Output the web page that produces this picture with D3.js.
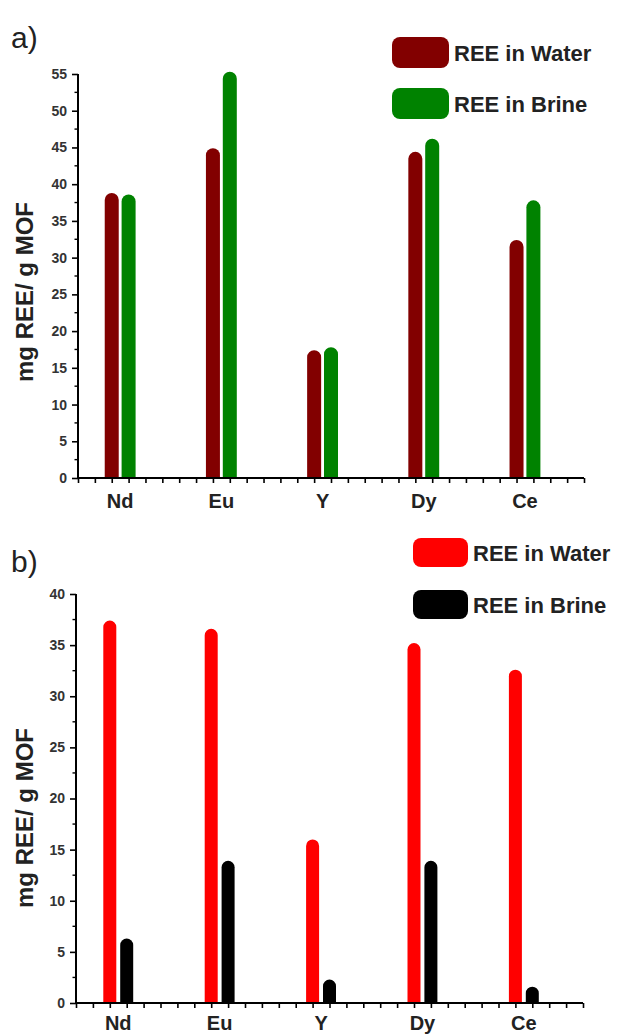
<!DOCTYPE html>
<html><head><meta charset="utf-8">
<script src="https://cdn.jsdelivr.net/npm/d3@7"></script>
<style>html,body{margin:0;padding:0;background:#fff;}svg{display:block;}</style>
</head><body>
<script>
const categories = ["Nd","Eu","Y","Dy","Ce"];
const seriesNames = ["REE in Water","REE in Brine"];
const waterA = [38.8, 44.9, 17.4, 44.4, 32.4];
const brineA = [38.6, 55.3, 17.8, 46.2, 37.8];
const waterB = [37.4, 36.6, 16.0, 35.2, 32.6];
const brineB = [6.3, 13.9, 2.3, 13.9, 1.6];
const yTicksA = [0,5,10,15,20,25,30,35,40,45,50,55];
const yTicksB = [0,5,10,15,20,25,30,35,40];

const W = 619, H = 1034;
const svg = d3.select("body").append("svg").attr("width", W).attr("height", H);
const FONT = "'Liberation Sans', Arial, sans-serif";

function barPath(x, w, yTop, yBase) {
  const r = Math.min(w/2, (yBase - yTop));
  return `M${x},${yBase} L${x},${yTop + r} A${r},${r} 0 0 1 ${x + w},${yTop + r} L${x + w},${yBase} Z`;
}

function panel(o) {
  const g = svg.append("g");
  const x = d3.scaleLinear().domain([0, 30]).range([o.x0, o.x1]);
  const y = d3.scaleLinear().domain([0, o.ymax]).range([o.yBase, o.yTop]);
  const catPos = i => 2 + i * 6;

  const series = [o.water, o.brine];
  series.forEach((vals, s) => {
    g.selectAll(null).data(vals).enter().append("path")
      .attr("d", (d, i) => {
        const cx = x(catPos(i) + s);
        return barPath(cx - o.bw/2, o.bw, y(d), y(0));
      })
      .attr("fill", o.colors[s]);
  });

  const yAxis = d3.axisLeft(y).tickValues(o.yTicks).tickSize(6).tickPadding(4).tickFormat(d3.format("d"));
  const ya = g.append("g").attr("transform", `translate(${o.x0},0)`).call(yAxis);
  ya.select(".domain").attr("stroke", "#000").attr("stroke-width", 2).attr("d", `M0,${o.yTop}V${o.yBase}`);
  ya.selectAll(".tick line").attr("stroke", "#000").attr("stroke-width", 1.6);
  ya.selectAll(".tick text").attr("font-family", FONT).attr("font-weight", "bold")
    .attr("font-size", 14).attr("fill", "#333").attr("dx", -1);
  const minor = d3.range(2.5, o.ymax, 5);
  g.selectAll(null).data(minor).enter().append("line")
    .attr("x1", o.x0 - 3.5).attr("x2", o.x0).attr("y1", d => y(d)).attr("y2", d => y(d))
    .attr("stroke", "#000").attr("stroke-width", 1.4);

  const xAxis = d3.axisBottom(x).tickValues(d3.range(0, 31)).tickSize(5).tickFormat("");
  const xa = g.append("g").attr("transform", `translate(0,${o.yBase})`).call(xAxis);
  xa.select(".domain").attr("stroke", "#000").attr("stroke-width", 2).attr("d", `M${o.x0},0H${o.x1}`);
  xa.selectAll(".tick line").attr("stroke", "#000").attr("stroke-width", 1.6);
  g.selectAll(null).data(categories).enter().append("text")
    .attr("x", (d, i) => x(catPos(i) + 0.5)).attr("y", o.yBase + o.labelDy)
    .attr("text-anchor", "middle").attr("font-family", FONT).attr("font-weight", "bold")
    .attr("font-size", 20).attr("fill", "#222").text(d => d);

  g.append("text")
    .attr("transform", `translate(${o.titleX},${o.titleY}) rotate(-90)`)
    .attr("text-anchor", "middle").attr("font-family", FONT).attr("font-weight", "bold")
    .attr("font-size", 24).attr("fill", "#222").text("mg REE/ g MOF");

  g.append("text").attr("x", o.letterX).attr("y", o.letterY)
    .attr("font-family", FONT).attr("font-size", 30).attr("fill", "#222").text(o.letter);

  seriesNames.forEach((name, s) => {
    const ly = o.legY + s * o.legStep;
    g.append("rect").attr("x", o.legX).attr("y", ly).attr("width", o.legW).attr("height", o.legH)
      .attr("rx", 8).attr("ry", 8).attr("fill", o.colors[s]);
    g.append("text").attr("x", o.legX + o.legW + 5).attr("y", ly + o.legH/2 + 8)
      .attr("font-family", FONT).attr("font-weight", "bold").attr("font-size", 22)
      .attr("fill", "#222").text(name);
  });
}

panel({
  x0: 78, x1: 584, yBase: 478, yTop: 74, ymax: 55, yTicks: yTicksA,
  water: waterA, brine: brineA, colors: ["#820000", "#008200"], bw: 14, labelDy: 30,
  titleX: 33, titleY: 292, letter: "a)", letterX: 11, letterY: 48,
  legX: 392, legY: 37, legW: 57, legH: 31, legStep: 51
});

panel({
  x0: 76, x1: 583, yBase: 1003, yTop: 594, ymax: 40, yTicks: yTicksB,
  water: waterB, brine: brineB, colors: ["#ff0000", "#000000"], bw: 13, labelDy: 27,
  titleX: 33, titleY: 818, letter: "b)", letterX: 11, letterY: 572,
  legX: 413, legY: 538, legW: 55, legH: 29, legStep: 52
});
</script>
</body></html>
